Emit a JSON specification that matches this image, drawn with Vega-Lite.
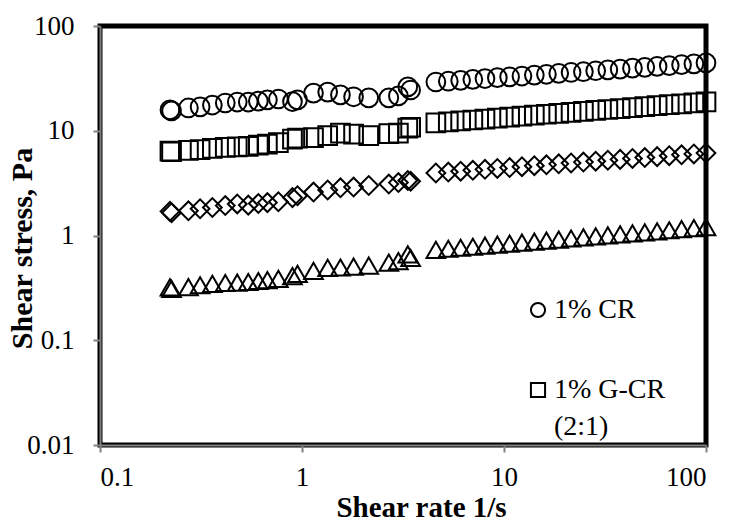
{
  "$schema": "https://vega.github.io/schema/vega-lite/v6.json",
  "width": 606,
  "height": 419,
  "autosize": {"type": "none"},
  "padding": {"left": 100, "top": 26, "right": 23, "bottom": 77},
  "background": "white",
  "config": {
    "view": {"stroke": "black", "strokeWidth": 5},
    "font": "Liberation Serif",
    "style": {"guide-label": {"lineHeight": 37}}
  },
  "data": {
    "values": [
      {"s": "1% CR", "x": 0.222, "y": 15.8}, {"s": "1% CR", "x": 0.226, "y": 15.5}, {"s": "1% CR", "x": 0.274, "y": 16.5}, {"s": "1% CR", "x": 0.313, "y": 16.9}, {"s": "1% CR", "x": 0.36, "y": 17.6}, {"s": "1% CR", "x": 0.417, "y": 18.4}, {"s": "1% CR", "x": 0.478, "y": 18.8}, {"s": "1% CR", "x": 0.542, "y": 18.8}, {"s": "1% CR", "x": 0.608, "y": 19.2}, {"s": "1% CR", "x": 0.674, "y": 19.7}, {"s": "1% CR", "x": 0.764, "y": 20.1}, {"s": "1% CR", "x": 0.897, "y": 19.0}, {"s": "1% CR", "x": 0.95, "y": 19.7}, {"s": "1% CR", "x": 1.14, "y": 22.9}, {"s": "1% CR", "x": 1.34, "y": 23.4}, {"s": "1% CR", "x": 1.55, "y": 22.0}, {"s": "1% CR", "x": 1.8, "y": 21.1}, {"s": "1% CR", "x": 2.14, "y": 20.6}, {"s": "1% CR", "x": 2.69, "y": 20.6}, {"s": "1% CR", "x": 3.0, "y": 21.5}, {"s": "1% CR", "x": 3.34, "y": 26.2}, {"s": "1% CR", "x": 3.45, "y": 24.5},
      {"s": "1% CR", "x": 4.6, "y": 29.2}, {"s": "1% CR", "x": 5.3, "y": 29.7}, {"s": "1% CR", "x": 6.1, "y": 30.3}, {"s": "1% CR", "x": 7.01, "y": 30.9}, {"s": "1% CR", "x": 8.05, "y": 31.5}, {"s": "1% CR", "x": 9.27, "y": 32.1}, {"s": "1% CR", "x": 10.66, "y": 32.7}, {"s": "1% CR", "x": 12.27, "y": 33.3}, {"s": "1% CR", "x": 14.13, "y": 34.0}, {"s": "1% CR", "x": 16.22, "y": 34.6}, {"s": "1% CR", "x": 18.66, "y": 35.3}, {"s": "1% CR", "x": 21.48, "y": 36.0}, {"s": "1% CR", "x": 24.72, "y": 36.6}, {"s": "1% CR", "x": 28.44, "y": 37.4}, {"s": "1% CR", "x": 32.66, "y": 38.1}, {"s": "1% CR", "x": 37.58, "y": 38.8}, {"s": "1% CR", "x": 43.25, "y": 39.6}, {"s": "1% CR", "x": 49.77, "y": 40.3}, {"s": "1% CR", "x": 57.28, "y": 41.1}, {"s": "1% CR", "x": 65.77, "y": 41.9}, {"s": "1% CR", "x": 75.68, "y": 42.7}, {"s": "1% CR", "x": 87.1, "y": 43.5}, {"s": "1% CR", "x": 100, "y": 44.4},

      {"s": "1% G-CR (2:1)", "x": 0.222, "y": 6.4}, {"s": "1% G-CR (2:1)", "x": 0.226, "y": 6.3}, {"s": "1% G-CR (2:1)", "x": 0.274, "y": 6.5}, {"s": "1% G-CR (2:1)", "x": 0.313, "y": 6.6}, {"s": "1% G-CR (2:1)", "x": 0.36, "y": 6.8}, {"s": "1% G-CR (2:1)", "x": 0.417, "y": 6.95}, {"s": "1% G-CR (2:1)", "x": 0.478, "y": 7.0}, {"s": "1% G-CR (2:1)", "x": 0.542, "y": 7.1}, {"s": "1% G-CR (2:1)", "x": 0.608, "y": 7.3}, {"s": "1% G-CR (2:1)", "x": 0.674, "y": 7.45}, {"s": "1% G-CR (2:1)", "x": 0.764, "y": 7.7}, {"s": "1% G-CR (2:1)", "x": 0.897, "y": 8.3}, {"s": "1% G-CR (2:1)", "x": 0.95, "y": 8.5}, {"s": "1% G-CR (2:1)", "x": 1.14, "y": 8.6}, {"s": "1% G-CR (2:1)", "x": 1.34, "y": 9.0}, {"s": "1% G-CR (2:1)", "x": 1.55, "y": 9.5}, {"s": "1% G-CR (2:1)", "x": 1.8, "y": 9.3}, {"s": "1% G-CR (2:1)", "x": 2.14, "y": 9.0}, {"s": "1% G-CR (2:1)", "x": 2.69, "y": 9.4}, {"s": "1% G-CR (2:1)", "x": 3.0, "y": 9.5}, {"s": "1% G-CR (2:1)", "x": 3.34, "y": 10.6}, {"s": "1% G-CR (2:1)", "x": 3.45, "y": 10.8},
      {"s": "1% G-CR (2:1)", "x": 4.6, "y": 11.9}, {"s": "1% G-CR (2:1)", "x": 5.3, "y": 12.15}, {"s": "1% G-CR (2:1)", "x": 6.1, "y": 12.41}, {"s": "1% G-CR (2:1)", "x": 7.01, "y": 12.67}, {"s": "1% G-CR (2:1)", "x": 8.05, "y": 12.94}, {"s": "1% G-CR (2:1)", "x": 9.27, "y": 13.21}, {"s": "1% G-CR (2:1)", "x": 10.66, "y": 13.49}, {"s": "1% G-CR (2:1)", "x": 12.27, "y": 13.78}, {"s": "1% G-CR (2:1)", "x": 14.13, "y": 14.07}, {"s": "1% G-CR (2:1)", "x": 16.22, "y": 14.37}, {"s": "1% G-CR (2:1)", "x": 18.66, "y": 14.67}, {"s": "1% G-CR (2:1)", "x": 21.48, "y": 14.98}, {"s": "1% G-CR (2:1)", "x": 24.72, "y": 15.3}, {"s": "1% G-CR (2:1)", "x": 28.44, "y": 15.62}, {"s": "1% G-CR (2:1)", "x": 32.66, "y": 15.95}, {"s": "1% G-CR (2:1)", "x": 37.58, "y": 16.29}, {"s": "1% G-CR (2:1)", "x": 43.25, "y": 16.64}, {"s": "1% G-CR (2:1)", "x": 49.77, "y": 16.99}, {"s": "1% G-CR (2:1)", "x": 57.28, "y": 17.35}, {"s": "1% G-CR (2:1)", "x": 65.77, "y": 17.72}, {"s": "1% G-CR (2:1)", "x": 75.68, "y": 18.09}, {"s": "1% G-CR (2:1)", "x": 87.1, "y": 18.47}, {"s": "1% G-CR (2:1)", "x": 100, "y": 18.86},

      {"s": "1% G-CR (1:1)", "x": 0.222, "y": 1.7}, {"s": "1% G-CR (1:1)", "x": 0.226, "y": 1.65}, {"s": "1% G-CR (1:1)", "x": 0.274, "y": 1.72}, {"s": "1% G-CR (1:1)", "x": 0.313, "y": 1.8}, {"s": "1% G-CR (1:1)", "x": 0.36, "y": 1.85}, {"s": "1% G-CR (1:1)", "x": 0.417, "y": 1.93}, {"s": "1% G-CR (1:1)", "x": 0.478, "y": 2.0}, {"s": "1% G-CR (1:1)", "x": 0.542, "y": 1.95}, {"s": "1% G-CR (1:1)", "x": 0.608, "y": 2.02}, {"s": "1% G-CR (1:1)", "x": 0.674, "y": 2.06}, {"s": "1% G-CR (1:1)", "x": 0.764, "y": 2.1}, {"s": "1% G-CR (1:1)", "x": 0.897, "y": 2.3}, {"s": "1% G-CR (1:1)", "x": 0.95, "y": 2.4}, {"s": "1% G-CR (1:1)", "x": 1.14, "y": 2.6}, {"s": "1% G-CR (1:1)", "x": 1.34, "y": 2.72}, {"s": "1% G-CR (1:1)", "x": 1.55, "y": 2.85}, {"s": "1% G-CR (1:1)", "x": 1.8, "y": 2.9}, {"s": "1% G-CR (1:1)", "x": 2.14, "y": 3.0}, {"s": "1% G-CR (1:1)", "x": 2.69, "y": 3.1}, {"s": "1% G-CR (1:1)", "x": 3.0, "y": 3.2}, {"s": "1% G-CR (1:1)", "x": 3.34, "y": 3.35}, {"s": "1% G-CR (1:1)", "x": 3.45, "y": 3.3},
      {"s": "1% G-CR (1:1)", "x": 4.6, "y": 3.95}, {"s": "1% G-CR (1:1)", "x": 5.3, "y": 4.03}, {"s": "1% G-CR (1:1)", "x": 6.1, "y": 4.11}, {"s": "1% G-CR (1:1)", "x": 7.01, "y": 4.19}, {"s": "1% G-CR (1:1)", "x": 8.05, "y": 4.28}, {"s": "1% G-CR (1:1)", "x": 9.27, "y": 4.37}, {"s": "1% G-CR (1:1)", "x": 10.66, "y": 4.45}, {"s": "1% G-CR (1:1)", "x": 12.27, "y": 4.54}, {"s": "1% G-CR (1:1)", "x": 14.13, "y": 4.64}, {"s": "1% G-CR (1:1)", "x": 16.22, "y": 4.73}, {"s": "1% G-CR (1:1)", "x": 18.66, "y": 4.83}, {"s": "1% G-CR (1:1)", "x": 21.48, "y": 4.92}, {"s": "1% G-CR (1:1)", "x": 24.72, "y": 5.02}, {"s": "1% G-CR (1:1)", "x": 28.44, "y": 5.12}, {"s": "1% G-CR (1:1)", "x": 32.66, "y": 5.23}, {"s": "1% G-CR (1:1)", "x": 37.58, "y": 5.33}, {"s": "1% G-CR (1:1)", "x": 43.25, "y": 5.44}, {"s": "1% G-CR (1:1)", "x": 49.77, "y": 5.55}, {"s": "1% G-CR (1:1)", "x": 57.28, "y": 5.66}, {"s": "1% G-CR (1:1)", "x": 65.77, "y": 5.78}, {"s": "1% G-CR (1:1)", "x": 75.68, "y": 5.89}, {"s": "1% G-CR (1:1)", "x": 87.1, "y": 6.01}, {"s": "1% G-CR (1:1)", "x": 100, "y": 6.13},

      {"s": "1% G-CR (1:2)", "x": 0.222, "y": 0.32}, {"s": "1% G-CR (1:2)", "x": 0.226, "y": 0.31}, {"s": "1% G-CR (1:2)", "x": 0.274, "y": 0.322}, {"s": "1% G-CR (1:2)", "x": 0.313, "y": 0.335}, {"s": "1% G-CR (1:2)", "x": 0.36, "y": 0.345}, {"s": "1% G-CR (1:2)", "x": 0.417, "y": 0.352}, {"s": "1% G-CR (1:2)", "x": 0.478, "y": 0.355}, {"s": "1% G-CR (1:2)", "x": 0.542, "y": 0.36}, {"s": "1% G-CR (1:2)", "x": 0.608, "y": 0.368}, {"s": "1% G-CR (1:2)", "x": 0.674, "y": 0.375}, {"s": "1% G-CR (1:2)", "x": 0.764, "y": 0.385}, {"s": "1% G-CR (1:2)", "x": 0.897, "y": 0.41}, {"s": "1% G-CR (1:2)", "x": 0.95, "y": 0.43}, {"s": "1% G-CR (1:2)", "x": 1.14, "y": 0.46}, {"s": "1% G-CR (1:2)", "x": 1.34, "y": 0.49}, {"s": "1% G-CR (1:2)", "x": 1.55, "y": 0.495}, {"s": "1% G-CR (1:2)", "x": 1.8, "y": 0.505}, {"s": "1% G-CR (1:2)", "x": 2.14, "y": 0.515}, {"s": "1% G-CR (1:2)", "x": 2.69, "y": 0.55}, {"s": "1% G-CR (1:2)", "x": 3.0, "y": 0.57}, {"s": "1% G-CR (1:2)", "x": 3.34, "y": 0.66}, {"s": "1% G-CR (1:2)", "x": 3.45, "y": 0.61},
      {"s": "1% G-CR (1:2)", "x": 4.6, "y": 0.73}, {"s": "1% G-CR (1:2)", "x": 5.3, "y": 0.747}, {"s": "1% G-CR (1:2)", "x": 6.1, "y": 0.764}, {"s": "1% G-CR (1:2)", "x": 7.01, "y": 0.781}, {"s": "1% G-CR (1:2)", "x": 8.05, "y": 0.799}, {"s": "1% G-CR (1:2)", "x": 9.27, "y": 0.817}, {"s": "1% G-CR (1:2)", "x": 10.66, "y": 0.836}, {"s": "1% G-CR (1:2)", "x": 12.27, "y": 0.855}, {"s": "1% G-CR (1:2)", "x": 14.13, "y": 0.875}, {"s": "1% G-CR (1:2)", "x": 16.22, "y": 0.895}, {"s": "1% G-CR (1:2)", "x": 18.66, "y": 0.915}, {"s": "1% G-CR (1:2)", "x": 21.48, "y": 0.936}, {"s": "1% G-CR (1:2)", "x": 24.72, "y": 0.958}, {"s": "1% G-CR (1:2)", "x": 28.44, "y": 0.98}, {"s": "1% G-CR (1:2)", "x": 32.66, "y": 1.002}, {"s": "1% G-CR (1:2)", "x": 37.58, "y": 1.025}, {"s": "1% G-CR (1:2)", "x": 43.25, "y": 1.049}, {"s": "1% G-CR (1:2)", "x": 49.77, "y": 1.073}, {"s": "1% G-CR (1:2)", "x": 57.28, "y": 1.097}, {"s": "1% G-CR (1:2)", "x": 65.77, "y": 1.122}, {"s": "1% G-CR (1:2)", "x": 75.68, "y": 1.148}, {"s": "1% G-CR (1:2)", "x": 87.1, "y": 1.174}, {"s": "1% G-CR (1:2)", "x": 100, "y": 1.2}
    ]
  },
  "mark": {"type": "point", "filled": false, "stroke": "black", "strokeWidth": 2, "opacity": 1, "size": 350, "clip": false},
  "encoding": {
    "x": {
      "field": "x", "type": "quantitative",
      "scale": {"type": "log", "domain": [0.1, 100], "nice": false},
      "axis": {
        "title": "Shear rate 1/s", "values": [0.1, 1, 10, 100], "format": "~g",
        "grid": false, "domainColor": "#808080", "domainWidth": 2,
        "tickColor": "#808080", "tickWidth": 2, "tickSize": 7,
        "labelFont": "Liberation Serif", "labelFontSize": 27, "labelColor": "black", "labelPadding": 12,
        "titleFont": "Liberation Serif", "titleFontSize": 29, "titleFontWeight": "bold", "titleColor": "black",
        "titleBaseline": "middle", "titleY": 62, "titleX": 321
      }
    },
    "y": {
      "field": "y", "type": "quantitative",
      "scale": {"type": "log", "domain": [0.01, 100], "nice": false},
      "axis": {
        "title": "Shear stress, Pa", "values": [0.01, 0.1, 1, 10, 100], "format": "~g",
        "grid": false, "domainColor": "#808080", "domainWidth": 2,
        "tickColor": "#808080", "tickWidth": 2, "tickSize": 7,
        "labelFont": "Liberation Serif", "labelFontSize": 27, "labelColor": "black", "labelPadding": 19,
        "titleFont": "Liberation Serif", "titleFontSize": 30, "titleFontWeight": "bold", "titleColor": "black",
        "titleBaseline": "middle", "titleX": -78, "titleY": 222
      }
    },
    "shape": {
      "field": "s", "type": "nominal",
      "scale": {"domain": ["1% CR", "1% G-CR (2:1)", "1% G-CR (1:1)", "1% G-CR (1:2)"], "range": ["circle", "square", "diamond", "triangle-up"]},
      "legend": {
        "title": null, "orient": "none", "legendX": 424, "legendY": 270,
        "values": ["1% CR", "1% G-CR (2:1)"],
        "labelExpr": "datum.label == '1% G-CR (2:1)' ? ['1% G-CR', '(2:1)'] : datum.label",
        "labelFont": "Liberation Serif", "labelFontSize": 28, "labelColor": "black", "labelLimit": 300,
        "labelOffset": 2, "rowPadding": 52, "padding": 0,
        "symbolSize": 200, "symbolStrokeColor": "black", "symbolStrokeWidth": 2, "symbolFillColor": "transparent", "symbolOpacity": 1
      }
    }
  }
}
